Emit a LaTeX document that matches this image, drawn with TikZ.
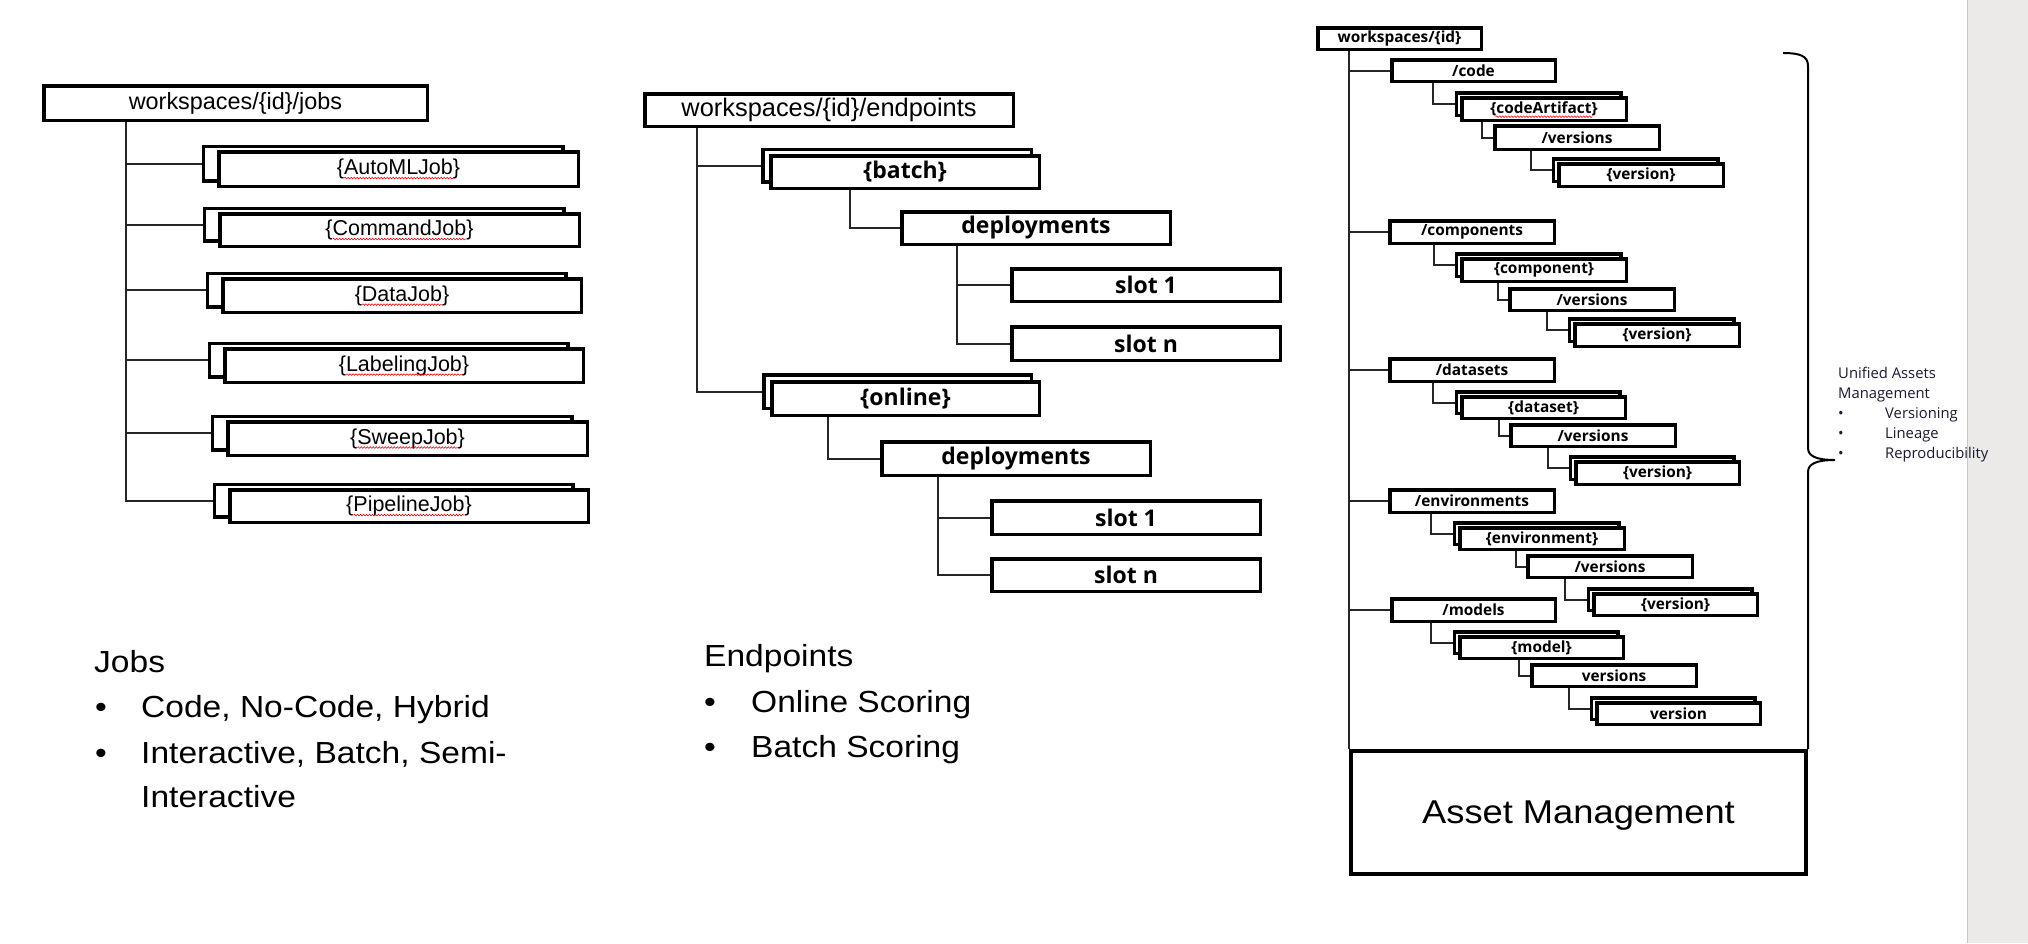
\documentclass[tikz,border=0pt]{standalone}
\usepackage{fontspec}
\setmainfont{Liberation Sans}
\newfontfamily\jfont{Liberation Sans}
\newfontfamily\widef[FakeStretch=1.1]{Liberation Sans}
\newfontfamily\osfont{Open Sans}
\usetikzlibrary{decorations.pathmorphing}

\definecolor{strip}{RGB}{235,234,233}
\definecolor{stripedge}{RGB}{200,200,200}
\definecolor{ink}{RGB}{25,25,50}

\tikzset{
  boxs/.style={draw=black, line width=3.5pt, fill=white, inner sep=0pt, rectangle},
  conn/.style={draw=black!85, line width=2pt},
  squig/.style={draw=red, line width=0.6pt, decorate, decoration={snake, amplitude=0.8pt, segment length=3pt}},
  jroot/.style={font=\jfont\fontsize{23.4}{26}\selectfont},
  eroot/.style={font=\jfont\fontsize{25.4}{28}\selectfont},
  jtxt/.style={font=\jfont\fontsize{21.5}{24}\selectfont, inner sep=0pt},
  ebold/.style={font=\osfont\bfseries\fontsize{23}{26}\selectfont},
  rbold/.style={font=\osfont\bfseries\fontsize{15.4}{17}\selectfont},
  rtxt/.style={font=\osfont\bfseries\fontsize{15.4}{17}\selectfont, inner sep=0pt},
  big/.style={font=\widef\fontsize{30.5}{34}\selectfont, inner sep=0pt, anchor=base west},
  bul/.style={big, anchor=base},
  amstyle/.style={font=\widef\fontsize{33}{36}\selectfont, line width=4pt, text depth=0pt},
  uam/.style={font=\osfont\fontsize{14.8}{17}\selectfont, text=ink, inner sep=0pt, anchor=base west},
  ubul/.style={uam, anchor=base},
}

\newcommand\mkbox[7][]{%
  \node[boxs,minimum width={#5-#3-3.5},minimum height={#6-#4-3.5},#1] (#2) at ({(#3+#5)/2},{(#4+#6)/2}) {#7};}
\newcommand\mkdbox[9][]{%
  \node[boxs,minimum width={#5-#3-3.5},minimum height={#6-#4-3.5}] (#2-back) at ({(#3+#5)/2-#7},{(#4+#6)/2-#8}) {};
  \node[boxs,minimum width={#5-#3-3.5},minimum height={#6-#4-3.5},#1] (#2) at ({(#3+#5)/2},{(#4+#6)/2}) {#9};}

\begin{document}
\begin{tikzpicture}[x=1pt,y=-1pt]
\useasboundingbox (0,0) rectangle (2028,943);
\fill[white] (0,0) rectangle (2028,943);
\fill[strip] (1967,0) rectangle (2028,943);
\draw[stripedge, line width=1pt] (1967,0) -- (1967,943);

% ---------------- Jobs ----------------
\mkbox[jroot]{jroot}{42}{84}{429}{122}{workspaces/\{id\}/jobs}
\mkdbox{A}{217}{150}{580}{188}{15.5}{5.5}{}
\mkdbox{B}{218}{212}{581}{248}{15.5}{5.5}{}
\mkdbox{C}{221}{277}{583}{314}{15.5}{5.5}{}
\mkdbox{D}{223}{347}{585}{384}{15.5}{5.5}{}
\mkdbox{E}{226}{420}{589}{457}{15.5}{5.5}{}
\mkdbox{F}{228}{488}{590}{524}{15.5}{5.5}{}
\node[jtxt] (tA) at (A) {\{AutoMLJob\}};
\node[jtxt] (tB) at (B) {\{CommandJob\}};
\node[jtxt] (tC) at (C) {\{DataJob\}};
\node[jtxt] (tD) at (D) {\{LabelingJob\}};
\node[jtxt] (tE) at (E) {\{SweepJob\}};
\node[jtxt] (tF) at (F) {\{PipelineJob\}};
\foreach \t in {tA,tB,tC,tD,tE,tF}{
  \draw[squig] ([xshift=7.5pt,yshift=-3.5pt]\t.base west) -- ([xshift=-7.5pt,yshift=-3.5pt]\t.base east);
}
\coordinate (jt) at ([xshift=84pt]jroot.south west);
\foreach \n in {A,B,C,D,E,F}{ \draw[conn] (jt) |- (\n-back.west); }

% ---------------- Endpoints ----------------
\mkbox[eroot]{eroot}{643}{92}{1015}{128}{workspaces/\{id\}/endpoints}
\mkdbox[ebold]{batch}{769}{154}{1041}{190}{8}{6.5}{\{batch\}}
\mkbox[ebold]{dep1}{900}{210}{1172}{246}{deployments}
\mkbox[ebold]{s11}{1010}{267}{1282}{303}{slot 1}
\mkbox[ebold]{s1n}{1010}{325}{1282}{362}{slot n}
\mkdbox[ebold]{online}{770}{380}{1041}{417}{8}{7}{\{online\}}
\mkbox[ebold]{dep2}{880}{440}{1152}{477}{deployments}
\mkbox[ebold]{s21}{990}{499}{1262}{536}{slot 1}
\mkbox[ebold]{s2n}{990}{557}{1262}{593}{slot n}
\coordinate (et) at ([xshift=54pt]eroot.south west);
\draw[conn] (et) |- (batch-back.west);
\draw[conn] (et) |- (online-back.west);
\draw[conn] ([xshift=81pt]batch.south west) |- (dep1.west);
\coordinate (d1) at ([xshift=57pt]dep1.south west);
\draw[conn] (d1) |- (s11.west);
\draw[conn] (d1) |- (s1n.west);
\draw[conn] ([xshift=58pt]online.south west) |- (dep2.west);
\coordinate (d2) at ([xshift=58pt]dep2.south west);
\draw[conn] (d2) |- (s21.west);
\draw[conn] (d2) |- (s2n.west);

% ---------------- Assets ----------------
\mkbox[rbold]{ws}{1316}{26}{1483}{51}{workspaces/\{id\}}
\mkbox[rbold]{code}{1390}{58}{1557}{83}{/code}
\mkdbox{codeA}{1460}{96}{1628}{122}{5.5}{5}{}
\node[rtxt] (tcodeA) at (codeA) {\{codeArtifact\}};
\draw[squig] ([xshift=5.5pt,yshift=-3pt]tcodeA.base west) -- ([xshift=-5.5pt,yshift=-3pt]tcodeA.base east);
\mkbox[rbold]{codeV}{1493}{124}{1661}{151}{/versions}
\mkdbox[rbold]{codeVV}{1557}{162}{1725}{188}{5.5}{5}{\{version\}}

\mkbox[rbold]{comp}{1388}{219}{1556}{245}{/components}
\mkdbox[rbold]{compA}{1460}{257}{1628}{283}{5.5}{5}{\{component\}}
\mkbox[rbold]{compV}{1508}{287}{1676}{312}{/versions}
\mkdbox[rbold]{compVV}{1573}{322}{1741}{348}{5.5}{5}{\{version\}}

\mkbox[rbold]{data}{1388}{357}{1556}{383}{/datasets}
\mkdbox[rbold]{dataA}{1460}{395}{1627}{420}{5.5}{5}{\{dataset\}}
\mkbox[rbold]{dataV}{1509}{423}{1677}{448}{/versions}
\mkdbox[rbold]{dataVV}{1574}{460}{1741}{486}{5.5}{5}{\{version\}}

\mkbox[rbold]{env}{1388}{488}{1556}{514}{/environments}
\mkdbox[rbold]{envA}{1458}{526}{1626}{551}{5.5}{5}{\{environment\}}
\mkbox[rbold]{envV}{1526}{554}{1694}{579}{/versions}
\mkdbox[rbold]{envVV}{1592}{592}{1759}{617}{5.5}{5}{\{version\}}

\mkbox[rbold]{mod}{1390}{597}{1557}{623}{/models}
\mkdbox[rbold]{modA}{1458}{635}{1625}{660}{5.5}{5}{\{model\}}
\mkbox[rbold]{modV}{1530}{663}{1698}{688}{versions}
\mkdbox[rbold]{modVV}{1595}{701}{1762}{726}{5.5}{5}{version}

\mkbox[amstyle]{am}{1349}{749}{1808}{876}{Asset Management}

\coordinate (rt) at ([xshift=33pt]ws.south west);
\draw[conn] (rt) -- (rt |- am.north);
\foreach \n in {code,comp,data,env,mod}{ \draw[conn] (rt) |- (\n.west); }

\draw[conn] ([xshift=43pt]code.south west) |- (codeA-back.west);
\draw[conn] ([xshift=22pt]codeA.south west) |- (codeV.west);
\draw[conn] ([xshift=38pt]codeV.south west) |- (codeVV-back.west);

\draw[conn] ([xshift=46pt]comp.south west) |- (compA-back.west);
\draw[conn] ([xshift=38pt]compA.south west) |- (compV.west);
\draw[conn] ([xshift=39pt]compV.south west) |- (compVV-back.west);

\draw[conn] ([xshift=45pt]data.south west) |- (dataA-back.west);
\draw[conn] ([xshift=39pt]dataA.south west) |- (dataV.west);
\draw[conn] ([xshift=39pt]dataV.south west) |- (dataVV-back.west);

\draw[conn] ([xshift=43pt]env.south west) |- (envA-back.west);
\draw[conn] ([xshift=58pt]envA.south west) |- (envV.west);
\draw[conn] ([xshift=39pt]envV.south west) |- (envVV-back.west);

\draw[conn] ([xshift=41pt]mod.south west) |- (modA-back.west);
\draw[conn] ([xshift=61pt]modA.south west) |- (modV.west);
\draw[conn] ([xshift=39pt]modV.south west) |- (modVV-back.west);

% brace
\draw[line width=2pt] (1783,53) .. controls (1800,53) and (1808,56) .. (1808,66)
  -- (1808,448) .. controls (1808,456) and (1816,460) .. (1835,460)
  .. controls (1816,460) and (1808,464) .. (1808,472) -- (1808,749);

% unified assets text
\node[uam] (u1) at (1838,378) {Unified Assets};
\node[uam] (u2) at (1838,398) {Management};
\node[ubul] (ub1) at (1841,418) {\textbullet};
\node[ubul] (ub2) at (1841,438) {\textbullet};
\node[ubul] (ub3) at (1841,458) {\textbullet};
\node[uam] (u3) at (1885,418) {Versioning};
\node[uam] (u4) at (1885,438) {Lineage};
\node[uam] (u5) at (1885,458) {Reproducibility};

% bottom texts
\node[big] (jobsT) at (94,672) {Jobs};
\node[bul] (jb1) at (101,717) {\textbullet};
\node[bul] (jb2) at (101,763) {\textbullet};
\node[big] (j1) at (141,717) {Code, No-Code, Hybrid};
\node[big] (j2) at (141,763) {Interactive, Batch, Semi-};
\node[big] (j3) at (141,807) {Interactive};

\node[big] (epT) at (704,666) {Endpoints};
\node[bul] (eb1) at (710,712) {\textbullet};
\node[bul] (eb2) at (710,757) {\textbullet};
\node[big] (e1) at (751,712) {Online Scoring};
\node[big] (e2) at (751,757) {Batch Scoring};
\end{tikzpicture}
\end{document}
